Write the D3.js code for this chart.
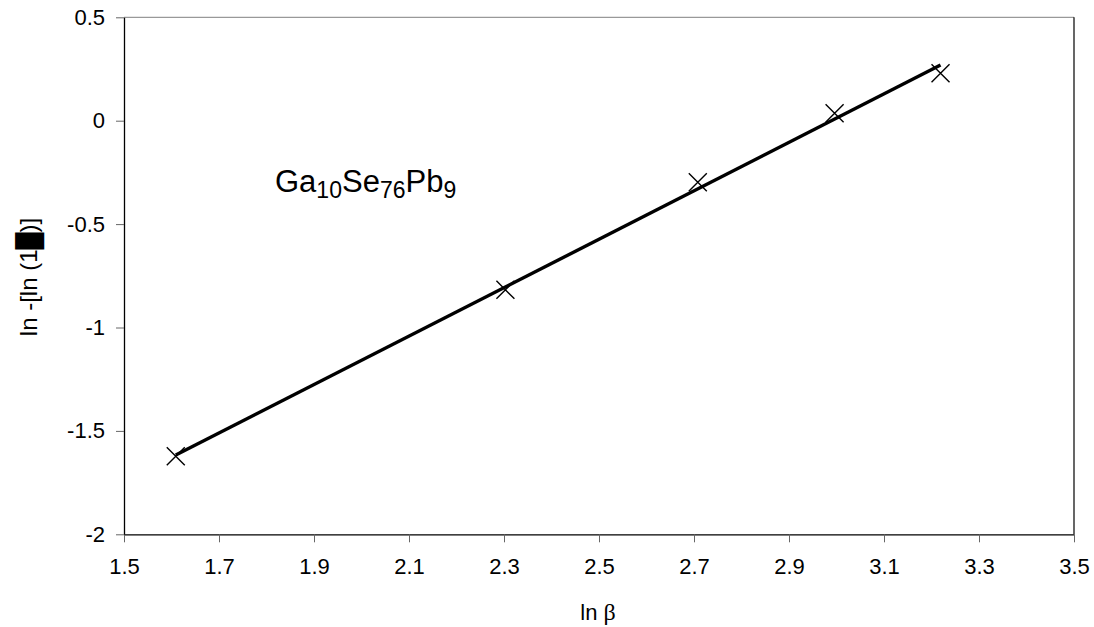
<!DOCTYPE html>
<html>
<head>
<meta charset="utf-8">
<script src="https://cdn.jsdelivr.net/npm/d3@7"></script>
<style>
  html, body { margin: 0; padding: 0; background: #fff; }
  svg text { font-family: "Liberation Sans", Arial, sans-serif; fill: #000; }
</style>
</head>
<body>
<svg id="chart" width="1094" height="627"></svg>
<script>
// Heating rates (ln β) and the double-log crystallized fraction term
const lnBeta = [1.609, 2.303, 2.708, 2.996, 3.219];
const lnLnTerm = [-1.623, -0.818, -0.298, 0.036, 0.229];
const xTicks = [1.5, 1.7, 1.9, 2.1, 2.3, 2.5, 2.7, 2.9, 3.1, 3.3, 3.5];
const yTicks = [-2, -1.5, -1, -0.5, 0, 0.5];

const svg = d3.select("#chart");
const m = { left: 124, right: 1074, top: 17.3, bottom: 534.3 };

const x = d3.scaleLinear().domain([1.5, 3.5]).range([m.left, m.right]);
const y = d3.scaleLinear().domain([-2, 0.5]).range([m.bottom, m.top]);

// plot frame: top edge light, right edge dark
svg.append("line").attr("x1", m.left).attr("x2", m.right).attr("y1", m.top).attr("y2", m.top)
  .attr("stroke", "#808080").attr("stroke-width", 1);
svg.append("line").attr("x1", m.right).attr("x2", m.right).attr("y1", m.top).attr("y2", m.bottom)
  .attr("stroke", "#000").attr("stroke-width", 1.2);

// axes, labels with a plain hyphen for negatives
const fmt = d => String(d);
const xAxis = svg.append("g").attr("transform", `translate(0,${m.bottom})`)
  .call(d3.axisBottom(x).tickValues(xTicks).tickFormat(fmt).tickSizeInner(8).tickSizeOuter(0).tickPadding(16));
const yAxis = svg.append("g").attr("transform", `translate(${m.left},0)`)
  .call(d3.axisLeft(y).tickValues(yTicks).tickFormat(fmt).tickSizeInner(8).tickSizeOuter(0).tickPadding(11));

[xAxis, yAxis].forEach(g => {
  g.select(".domain").attr("stroke", "#000").attr("stroke-width", 1.3);
  g.selectAll(".tick line").attr("stroke", "#666").attr("stroke-width", 1);
  g.selectAll(".tick text").attr("font-size", 22).attr("font-family", "Liberation Sans, Arial, sans-serif").attr("fill", "#000");
});

// least-squares fit through the points
const mx = d3.mean(lnBeta), my = d3.mean(lnLnTerm);
const sxy = d3.sum(lnBeta, (v, i) => (v - mx) * (lnLnTerm[i] - my));
const sxx = d3.sum(lnBeta, v => (v - mx) * (v - mx));
const slope = sxy / sxx, icpt = my - slope * mx;
const xr = d3.extent(lnBeta);
svg.append("path")
  .datum(xr.map(v => [v, icpt + slope * v]))
  .attr("d", d3.line().x(d => x(d[0])).y(d => y(d[1])))
  .attr("fill", "none").attr("stroke", "#000").attr("stroke-width", 3.4);

// cross markers
const h = 9;
const pts = svg.append("g").selectAll("g").data(lnBeta.map((v, i) => [v, lnLnTerm[i]])).join("g")
  .attr("transform", d => `translate(${x(d[0])},${y(d[1])})`);
pts.append("path").attr("d", `M${-h},${-h}L${h},${h}M${-h},${h}L${h},${-h}`)
  .attr("stroke", "#000").attr("stroke-width", 1.4).attr("fill", "none");

// composition label with subscripts
const lab = svg.append("text").attr("x", 275).attr("y", 192).attr("font-size", 31);
[["Ga", false], ["10", true], ["Se", false], ["76", true], ["Pb", false], ["9", true]].forEach(([t, sub]) => {
  const s = lab.append("tspan").text(t).attr("font-size", sub ? 23 : 31);
  if (sub) s.attr("baseline-shift", "-6");
});

// axis titles
svg.append("text").attr("transform", "translate(37,277) rotate(-90)")
  .attr("text-anchor", "middle").attr("font-size", 24)
  .text("ln -[ln (1\u2588)]");

const xt = svg.append("text").attr("x", 598).attr("y", 620).attr("text-anchor", "middle").attr("font-size", 22);
xt.append("tspan").text("ln ");
xt.append("tspan").text("β").attr("font-family", "Liberation Serif, Times New Roman, serif").attr("font-size", 24);
</script>
</body>
</html>
